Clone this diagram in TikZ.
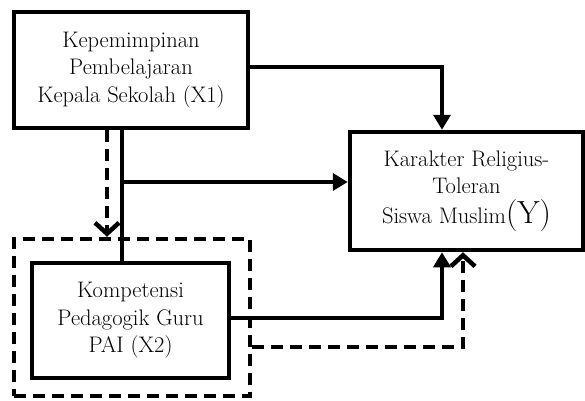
\documentclass[tikz,border=0pt]{standalone}
\usepackage{fontspec}
\usepackage{tikz}
\usetikzlibrary{arrows.meta,shapes}

\begin{document}
\begin{tikzpicture}[x=1pt,y=-1pt,
var/.style={
rectangle,
draw,
line width=4.5pt,
inner sep=0pt,
align=center,
font=\fontsize{22.5}{27.5}\selectfont
},
link/.style={
line width=4.5pt,
-{Triangle[length=15pt,width=17pt]}
},
dlink/.style={
line width=4.5pt,
dash pattern=on 12pt off 7pt,
-{Straight Barb[length=11pt,width=24pt,line width=4.5pt]}
}]
\useasboundingbox (0,0) rectangle (585,400);
\node (grup) [var,dash pattern=on 12pt off 7pt,minimum width=236pt,minimum height=157pt] at (132,317.5) {};
\node (kepemimpinan) [var,minimum width=234pt,minimum height=116pt] at (131,70) {Kepemimpinan\\Pembelajaran\\Kepala Sekolah (X1)};
\node (kompetensi) [var,fill=white,minimum width=197pt,minimum height=115pt] at (130.5,320.5) {Kompetensi\\Pedagogik Guru\\PAI (X2)};
\node (karakter) [var,minimum width=233pt,minimum height=118pt] at (466.5,191) {Karakter Religius-\\Toleran\\[2pt]Siswa Muslim{\fontsize{32}{32}\selectfont(Y)}};
\coordinate (cabang) at (122,182);
\coordinate (atas) at (442,67);
\coordinate (bawah) at (442,318);
\coordinate (putus) at (463,347);
% garis utuh
\draw [link] (kepemimpinan.east |- atas) -- (atas) -- (karakter.north -| atas);
\draw [line width=4.5pt] (kepemimpinan.south -| cabang) -- (kompetensi.north -| cabang);
\draw [link] (cabang) -- (karakter.west |- cabang);
\draw [link] (kompetensi.east |- bawah) -- (bawah) -- (karakter.south -| bawah);
% garis putus-putus
\draw [dlink] (107,0 |- kepemimpinan.south) -- (107,0 |- grup.north);
\draw [dlink] (grup.east |- putus) -- (putus) -- (karakter.south -| putus);
\end{tikzpicture}
\end{document}
